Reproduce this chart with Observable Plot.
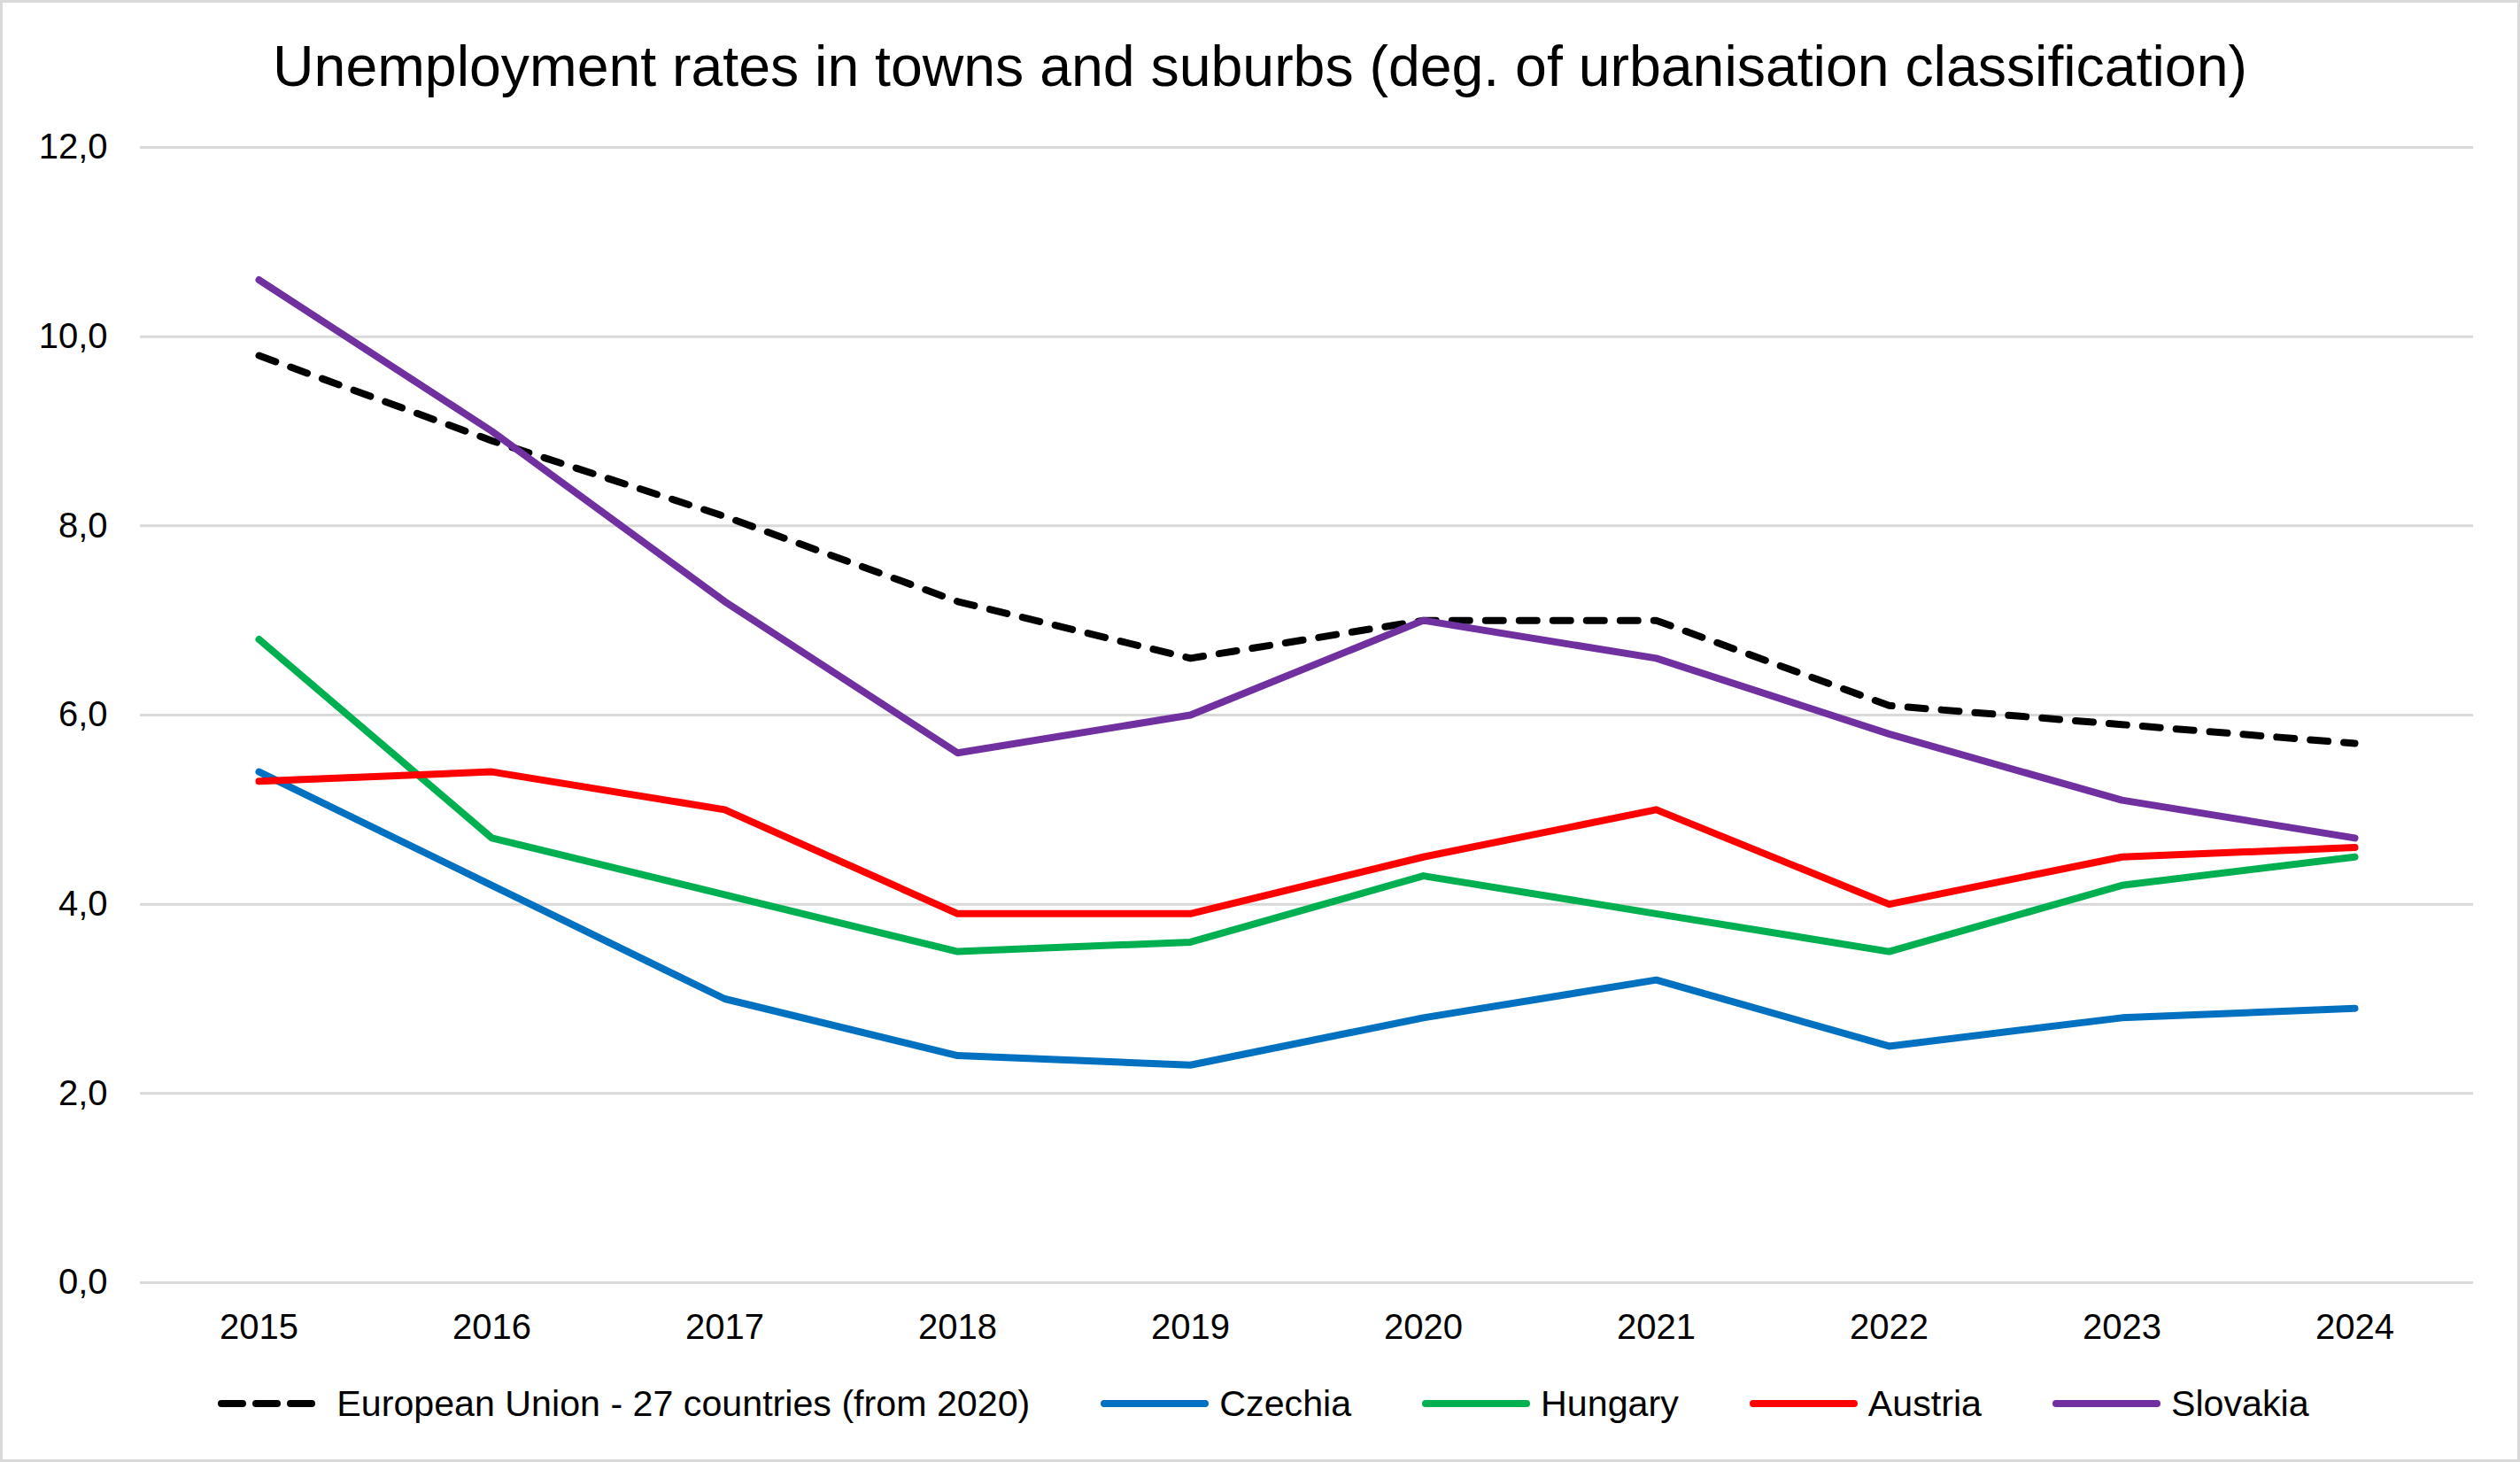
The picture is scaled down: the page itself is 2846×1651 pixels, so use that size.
<!DOCTYPE html>
<html><head><meta charset="utf-8">
<script src="https://cdn.jsdelivr.net/npm/d3@7"></script>
<script src="https://cdn.jsdelivr.net/npm/@observablehq/plot@0.6"></script>
<style>
html,body{margin:0;padding:0;background:#fff;}
#chart{position:relative;width:2846px;height:1651px;font-family:"Liberation Sans",Arial,sans-serif;background:#fff;overflow:hidden;color:#000;}
#frame{position:absolute;left:0;top:0;width:2846px;height:1651px;box-sizing:border-box;border:3px solid #d9d9d9;pointer-events:none;}
#title{position:absolute;left:0;top:43px;width:2846px;text-align:center;font-size:64.4px;line-height:64px;white-space:nowrap;}
#plot{position:absolute;left:0;top:0;}
#legend{position:absolute;left:4px;top:1565px;width:2846px;display:flex;justify-content:center;align-items:center;font-size:41.2px;line-height:40px;white-space:nowrap;}
.item{display:flex;align-items:center;margin:0 40px;}
.item svg{margin-right:12px;display:block;}
</style></head>
<body>
<div id="chart">
  <div id="title">Unemployment rates in towns and suburbs (deg. of urbanisation classification)</div>
  <div id="plot"></div>
  <div id="legend"></div>
  <div id="frame"></div>
</div>
<script>
const years = [2015, 2016, 2017, 2018, 2019, 2020, 2021, 2022, 2023, 2024];
const yTicks = [0, 2, 4, 6, 8, 10, 12];

const seriesNames = ["European Union - 27 countries (from 2020)", "Czechia", "Hungary", "Austria", "Slovakia"];
const seriesColors = ["#000000", "#0070C0", "#00B050", "#FF0000", "#7030A0"];

const euValues       = [9.8, 8.9, 8.1, 7.2, 6.6, 7.0, 7.0, 6.1, 5.9, 5.7];
const czechiaValues  = [5.4, 4.2, 3.0, 2.4, 2.3, 2.8, 3.2, 2.5, 2.8, 2.9];
const hungaryValues  = [6.8, 4.7, 4.1, 3.5, 3.6, 4.3, 3.9, 3.5, 4.2, 4.5];
const austriaValues  = [5.3, 5.4, 5.0, 3.9, 3.9, 4.5, 5.0, 4.0, 4.5, 4.6];
const slovakiaValues = [10.6, 9.0, 7.2, 5.6, 6.0, 7.0, 6.6, 5.8, 5.1, 4.7];

const seriesValues = [euValues, czechiaValues, hungaryValues, austriaValues, slovakiaValues];

const series = seriesNames.map((name, k) => ({
  name,
  color: seriesColors[k],
  dashed: k === 0,
  rows: years.map((year, i) => ({year, value: seriesValues[k][i], series: name}))
}));

const fmt = d => d.toFixed(1).replace(".", ",");

const chart = Plot.plot({
  width: 2846,
  height: 1651,
  marginTop: 166,
  marginBottom: 203,
  marginLeft: 158,
  marginRight: 53,
  style: {fontFamily: "'Liberation Sans', Arial, sans-serif", fontSize: "40px", color: "#000", background: "transparent", overflow: "visible"},
  x: {type: "point", domain: years, padding: 0.5},
  y: {domain: [0, 12]},
  marks: [
    Plot.gridY({ticks: yTicks, stroke: "#d9d9d9", strokeOpacity: 1, strokeWidth: 3}),
    Plot.axisY({ticks: yTicks, tickSize: 0, tickPadding: 37, tickFormat: fmt, fontSize: 40, label: null, fill: "#000"}),
    Plot.axisX({ticks: years, tickSize: 0, tickPadding: 35, tickFormat: d => String(d), fontSize: 40, label: null, fill: "#000"}),
    ...series.map(s => Plot.lineY(s.rows, {
      x: "year", y: "value",
      stroke: s.color, strokeWidth: 8,
      strokeDasharray: s.dashed ? "20,18" : null,
      strokeLinecap: "round", strokeLinejoin: "round"
    }))
  ]
});
document.getElementById("plot").appendChild(chart);

const legend = document.getElementById("legend");
series.forEach(s => {
  const item = document.createElement("div");
  item.className = "item";
  const ns = "http://www.w3.org/2000/svg";
  const svg = document.createElementNS(ns, "svg");
  svg.setAttribute("width", 122);
  svg.setAttribute("height", 12);
  const ln = document.createElementNS(ns, "line");
  ln.setAttribute("x1", 4); ln.setAttribute("x2", s.dashed ? 110 : 118);
  ln.setAttribute("y1", 6); ln.setAttribute("y2", 6);
  ln.setAttribute("stroke", s.color);
  ln.setAttribute("stroke-width", 8);
  ln.setAttribute("stroke-linecap", "round");
  if (s.dashed) ln.setAttribute("stroke-dasharray", "24,15");
  svg.appendChild(ln);
  const label = document.createElement("span");
  label.textContent = s.name;
  item.appendChild(svg);
  item.appendChild(label);
  legend.appendChild(item);
});
</script>
</body></html>
